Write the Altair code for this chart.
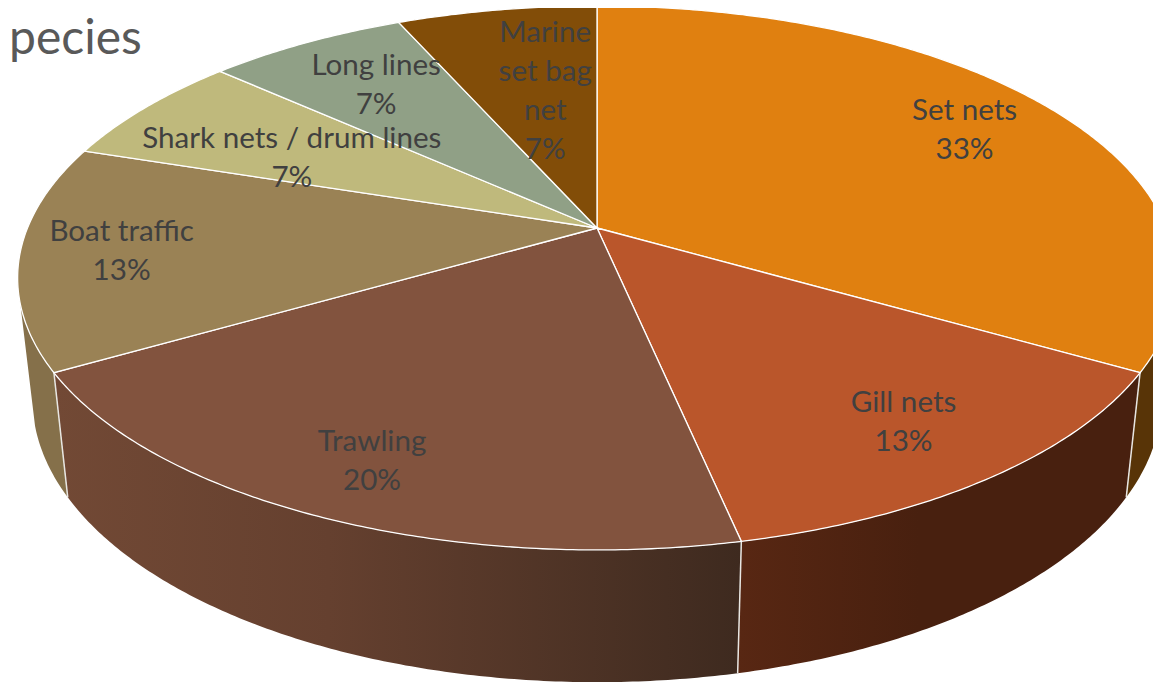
import math
import altair as alt

# --- data ---
categories = ["Set nets", "Gill nets", "Trawling", "Boat traffic",
              "Shark nets / drum lines", "Long lines", "Marine\nset bag\nnet"]
counts = [5, 2, 3, 2, 1, 1, 1]
title_text = "pecies"

# --- styling ---
top_colors = ["#E08010", "#BA562B", "#82533E", "#9A8255", "#BFB97C", "#90A086", "#824D08"]
TEXT = "#404040"
FONT = "Lato"

# --- 3D look: projective mapping of a unit disc to the page (chart pixels) ---
W, H = 1145, 674
K = 0.1837
LH = 39
TOP = dict(cx=597 - 8, cy=228 - 8, rx=569.5, ry=262.8)
BOT = dict(cx=597 - 8, cy=346.5 - 8, rx=555.0, ry=274.0)
label_radius = [0.80, 0.806, 0.835, 0.826, 0.629, 0.742, 0.585]
label_shift = [0, 0, 0, 0, -3.6, 0.5, 2.1]
WALL_RIGHT_END, WALL_LEFT_END = 106, 254


def project(deg, r, p):
    a = math.radians(deg)
    x, y = r * math.sin(a), -r * math.cos(a)
    d = 1 - K * y
    return [p["cx"] + p["rx"] * x / d, p["cy"] + p["ry"] * y / d]


def arc(a0, a1, p):
    n = max(2, int(abs(a1 - a0) * 2))
    return [project(a0 + (a1 - a0) * i / n, 1, p) for i in range(n + 1)]


def feature(coords, name, kind="Polygon"):
    geom = [coords] if kind == "Polygon" else coords
    return {"type": "Feature", "geometry": {"type": kind, "coordinates": geom},
            "properties": {"name": name}}


total = sum(counts)
edges = [0.0]
for c in counts:
    edges.append(edges[-1] + c / total * 360)

proj = dict(type="identity", scale=1, translate=[0, 0])


def grad(*stops):
    return alt.Gradient(gradient="linear", x1=0, x2=1, y1=0, y2=0,
                        stops=[alt.GradientStop(color=c, offset=o) for c, o in stops])


def wall(a0, a1, fill):
    ring = arc(a0, a1, TOP) + arc(a1, a0, BOT)
    ring.append(ring[0])
    return (alt.Chart(alt.Data(values=[feature(ring, "wall")]))
            .mark_geoshape(fill=fill, strokeWidth=0, clip=True)
            .project(**proj))


walls = [
    wall(WALL_RIGHT_END, edges[1], "#583407"),
    wall(edges[1], edges[2], grad(("#582713", 0), ("#48200F", 0.45), ("#48200F", 1))),
    wall(edges[2], edges[3], grad(("#724935", 0), ("#65402F", 0.4), ("#3E2A1F", 1))),
    wall(edges[3], WALL_LEFT_END, "#85704A"),
]

seams = (alt.Chart(alt.Data(values=[
            feature([project(edges[i], 1, TOP), project(edges[i], 1, BOT)], "seam", "LineString")
            for i in (1, 2, 3)]))
         .mark_geoshape(filled=False, stroke="#E8E6E2", strokeWidth=1.5, clip=True)
         .project(**proj))

slices = []
for i, name in enumerate(categories):
    ring = [project(0, 0, TOP)] + arc(edges[i], edges[i + 1], TOP) + [project(0, 0, TOP)]
    slices.append(feature(ring, name))

top = (alt.Chart(alt.Data(values=slices))
       .mark_geoshape(stroke="white", strokeWidth=1.3, clip=True)
       .encode(color=alt.Color("properties.name:N", legend=None,
                               scale=alt.Scale(domain=categories, range=top_colors)))
       .project(**proj))

rows = []
for i, name in enumerate(categories):
    mid = (edges[i] + edges[i + 1]) / 2 + label_shift[i]
    x, y = project(mid, label_radius[i], TOP)
    t = f"{name}\n{round(counts[i] / total * 100)}%"
    rows.append({"x": x, "y": y - t.count("\n") * LH / 2, "t": t})

labels = (alt.Chart(alt.Data(values=rows))
          .mark_text(font=FONT, fontSize=29.6, color=TEXT, lineBreak="\n", lineHeight=LH,
                     align="center", baseline="middle")
          .encode(x=alt.X("x:Q", scale=None, axis=None),
                  y=alt.Y("y:Q", scale=None, axis=None),
                  text="t:N"))

head = (alt.Chart(alt.Data(values=[{"t": title_text, "x": 1, "y": 32}]))
        .mark_text(font=FONT, fontSize=48, color="#595959", align="left", baseline="middle")
        .encode(x=alt.X("x:Q", scale=None, axis=None),
                y=alt.Y("y:Q", scale=None, axis=None),
                text="t:N"))

chart = (alt.layer(*walls, seams, top, labels, head)
         .properties(width=W, height=H, padding=0, autosize=alt.AutoSizeParams(type="none"))
         .configure_view(stroke=None))

chart.save("out.html", embed_options={"renderer": "svg", "actions": False})
